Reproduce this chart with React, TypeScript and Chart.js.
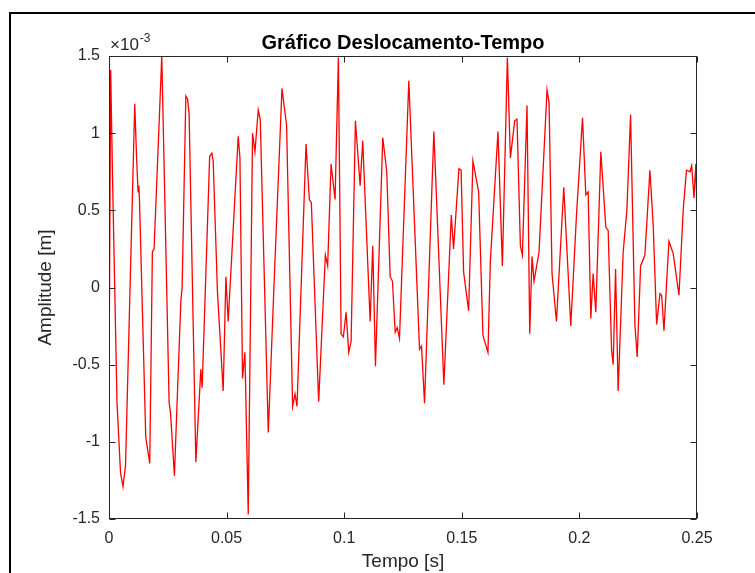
import { useEffect, useRef } from "react";
import { Chart, registerables } from "chart.js";

Chart.register(...registerables);

// Sampled displacement signal: time in seconds, amplitude in units of 10^-3 m
const TIME_S = [
  0, 0.00072, 0.00149, 0.00341, 0.0049, 0.00596, 0.00703, 0.01095, 0.01171, 0.01235, 0.01269, 0.01299,
  0.01563, 0.01733, 0.01844, 0.01917, 0.02244, 0.02555, 0.02619, 0.02781, 0.03054, 0.03109,
  0.03267, 0.03343, 0.03407, 0.03693, 0.03905, 0.03961, 0.0428, 0.04374, 0.04429, 0.04612,
  0.04855, 0.0497, 0.05068, 0.05494, 0.05567, 0.05677, 0.05779, 0.0592, 0.06103, 0.06205,
  0.06346, 0.06431, 0.06772, 0.07027, 0.07355, 0.07551, 0.07807, 0.07909, 0.07994, 0.08377,
  0.08518, 0.08603, 0.08914, 0.09199, 0.09297, 0.09442, 0.09612, 0.09753, 0.09868, 0.09966,
  0.10081, 0.10192, 0.10294, 0.10477, 0.10677, 0.10788, 0.11103, 0.11214, 0.11329, 0.1164,
  0.1181, 0.11955, 0.12053, 0.12168, 0.12253, 0.12351, 0.12747, 0.13203, 0.13288, 0.13416,
  0.13812, 0.14238, 0.14553, 0.14651, 0.14877, 0.1497, 0.15077, 0.1529, 0.15473, 0.15716,
  0.15899, 0.16112, 0.16214, 0.16538, 0.16725, 0.16938, 0.17066, 0.17249, 0.17347, 0.17491,
  0.17576, 0.17773, 0.17888, 0.17986, 0.18071, 0.18284, 0.18624, 0.18709, 0.18837, 0.19025,
  0.19336, 0.19634, 0.19876, 0.20132, 0.20273, 0.20371, 0.20486, 0.20584, 0.20698, 0.20911,
  0.21124, 0.21223, 0.21367, 0.21435, 0.21538, 0.21648, 0.21861, 0.22019, 0.22176, 0.2236,
  0.22458, 0.22602, 0.22785, 0.22998, 0.23139, 0.23284, 0.23424, 0.23497, 0.23595, 0.23807,
  0.2399, 0.24233, 0.24417, 0.24553, 0.24702, 0.24774, 0.24872, 0.24949, 0.25,
];

const AMPLITUDE_E3 = [
  -0.65, 1.41, 0.72, -0.75, -1.2, -1.29, -1.15, 1.19, 0.85, 0.62, 0.66, 0.55,
  -0.97, -1.14, 0.23, 0.25, 1.5, -0.74, -0.82, -1.22, -0.09, 0.0,
  1.24, 1.22, 1.12, -1.13, -0.53, -0.65, 0.85, 0.87, 0.82, -0.03,
  -0.67, 0.07, -0.22, 0.98, 0.84, -0.59, -0.42, -1.47, 1.0, 0.88,
  1.15, 1.09, -0.94, 0.06, 1.29, 1.05, -0.77, -0.69, -0.77, 0.93,
  0.57, 0.55, -0.74, 0.21, 0.14, 0.8, 0.57, 1.49, -0.3, -0.32,
  -0.16, -0.42, -0.35, 1.08, 0.66, 0.95, -0.22, 0.27, -0.51, 0.97,
  0.75, 0.07, 0.04, -0.29, -0.26, -0.33, 1.34, -0.4, -0.38, -0.75,
  1.01, -0.63, 0.47, 0.25, 0.77, 0.76, 0.1, -0.15, 0.82, 0.62,
  -0.31, -0.42, 0.17, 1.01, 0.14, 1.49, 0.84, 1.08, 1.09, 0.27,
  0.21, 1.18, -0.3, 0.2, 0.04, 0.23, 1.28, 1.2, 0.09, -0.22,
  0.65, -0.25, 0.47, 1.1, 0.6, 0.62, -0.2, 0.09, -0.16, 0.88,
  0.39, 0.37, -0.4, -0.5, 0.12, -0.67, 0.23, 0.5, 1.12, -0.24,
  -0.45, 0.14, 0.21, 0.76, 0.4, -0.24, -0.04, -0.05, -0.28, 0.3,
  0.22, -0.05, 0.51, 0.76, 0.75, 0.79, 0.58, 0.8, 0.5,
];

const X_TICKS = [0, 0.05, 0.1, 0.15, 0.2, 0.25];
const Y_TICKS = [-1.5, -1, -0.5, 0, 0.5, 1, 1.5];

const TITLE = "Gráfico Deslocamento-Tempo";
const X_LABEL = "Tempo [s]";
const Y_LABEL = "Amplitude [m]";
const Y_EXPONENT_BASE = "×10";
const Y_EXPONENT = "-3";

const FONT = "'Liberation Sans', Arial, Helvetica, sans-serif";
const AXIS_COLOR = "#262626";
const LINE_COLOR = "#ff0000";

// Draws the MATLAB-like box, inward ticks on all four sides, title,
// exponent label and the outer figure frame.
const figurePlugin = {
  id: "figureDecor",
  beforeDraw(chart: any) {
    const { ctx, width, height } = chart;
    ctx.save();
    ctx.fillStyle = "#ffffff";
    ctx.fillRect(0, 0, width, height);
    ctx.restore();
  },
  afterDraw(chart: any) {
    const { ctx, chartArea, scales } = chart;
    const { left, right, top, bottom } = chartArea;
    const xs = scales.x;
    const ys = scales.y;
    const tick = 6;
    ctx.save();

    // axes box
    ctx.strokeStyle = AXIS_COLOR;
    ctx.lineWidth = 1;
    const L = Math.round(left) + 0.5;
    const R = Math.round(right) - 0.5;
    const T = Math.round(top) + 0.5;
    const B = Math.round(bottom) - 0.5;
    ctx.strokeRect(L, T, R - L, B - T);

    // inward tick marks
    ctx.beginPath();
    X_TICKS.forEach((v) => {
      const px = Math.round(xs.getPixelForValue(v)) + 0.5;
      ctx.moveTo(px, B);
      ctx.lineTo(px, B - tick);
      ctx.moveTo(px, T);
      ctx.lineTo(px, T + tick);
    });
    Y_TICKS.forEach((v) => {
      const py = Math.round(ys.getPixelForValue(v)) + 0.5;
      ctx.moveTo(L, py);
      ctx.lineTo(L + tick, py);
      ctx.moveTo(R, py);
      ctx.lineTo(R - tick, py);
    });
    ctx.stroke();

    // title
    ctx.fillStyle = "#000000";
    ctx.font = `bold 20px ${FONT}`;
    ctx.textAlign = "center";
    ctx.textBaseline = "alphabetic";
    ctx.fillText(TITLE, (left + right) / 2, 49);

    // exponent of the y axis
    ctx.fillStyle = AXIS_COLOR;
    ctx.textAlign = "left";
    ctx.font = `17px ${FONT}`;
    ctx.fillText(Y_EXPONENT_BASE, left + 1, 50);
    const baseW = ctx.measureText(Y_EXPONENT_BASE).width;
    ctx.font = `12px ${FONT}`;
    ctx.fillText(Y_EXPONENT, left + 1 + baseW + 1, 42);

    // figure frame
    ctx.fillStyle = "#000000";
    ctx.fillRect(9, 12, 2, chart.height - 12);
    ctx.fillRect(9, 12, chart.width - 9, 2);

    ctx.restore();
  },
};

export default function App() {
  const canvasRef = useRef<HTMLCanvasElement | null>(null);

  useEffect(() => {
    const canvas = canvasRef.current;
    if (!canvas) return;
    const points = TIME_S.map((t, i) => ({ x: t, y: AMPLITUDE_E3[i] }));

    const chart = new Chart(canvas, {
      type: "line",
      data: {
        datasets: [
          {
            data: points,
            borderColor: LINE_COLOR,
            borderWidth: 1.3,
            pointRadius: 0,
            tension: 0,
            fill: false,
          },
        ],
      },
      options: {
        responsive: false,
        animation: false,
        devicePixelRatio: 1,
        layout: { padding: { left: 34, top: 56, right: 58, bottom: 0 } },
        plugins: {
          legend: { display: false },
          tooltip: { enabled: false },
          title: { display: false },
        },
        scales: {
          x: {
            type: "linear",
            min: 0,
            max: 0.25,
            afterBuildTicks: (scale: any) => {
              scale.ticks = X_TICKS.map((v) => ({ value: v }));
            },
            afterFit: (scale: any) => {
              scale.height = 54;
            },
            grid: { display: false, drawTicks: false },
            border: { display: false },
            ticks: {
              padding: 10,
              color: AXIS_COLOR,
              font: { size: 16, family: FONT },
              maxRotation: 0,
              autoSkip: false,
              callback: (v: any) => String(v),
            },
            title: {
              display: true,
              text: X_LABEL,
              color: AXIS_COLOR,
              font: { size: 19, family: FONT },
              padding: 0,
            },
          },
          y: {
            type: "linear",
            min: -1.5,
            max: 1.5,
            afterBuildTicks: (scale: any) => {
              scale.ticks = Y_TICKS.map((v) => ({ value: v }));
            },
            afterFit: (scale: any) => {
              scale.width = 75;
            },
            grid: { display: false, drawTicks: false },
            border: { display: false },
            ticks: {
              padding: 9,
              color: AXIS_COLOR,
              font: { size: 16, family: FONT },
              autoSkip: false,
              callback: (v: any) => String(v),
            },
            title: {
              display: true,
              text: Y_LABEL,
              color: AXIS_COLOR,
              font: { size: 19, family: FONT },
              padding: 0,
            },
          },
        },
      },
      plugins: [figurePlugin],
    });

    return () => chart.destroy();
  }, []);

  return (
    <div style={{ position: "absolute", left: 0, top: 0, width: 755, height: 573 }}>
      <canvas ref={canvasRef} width={755} height={573} style={{ display: "block", width: 755, height: 573 }} />
    </div>
  );
}
